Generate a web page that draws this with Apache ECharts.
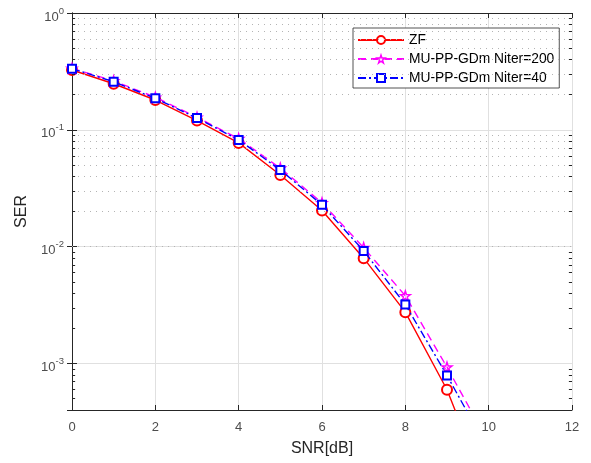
<!DOCTYPE html>
<html><head><meta charset="utf-8">
<script src="https://cdn.jsdelivr.net/npm/echarts@6/dist/echarts.min.js"></script>
<style>html,body{margin:0;padding:0;background:#fff}#c{width:591px;height:463px}</style>
</head><body><div id="c"></div>
<script>
const snr = [0,1,2,3,4,5,6,7,8,9,10];
const serZF = [0.325,0.248,0.180,0.120,0.0773,0.0411,0.0204,0.00797,0.00275,0.000596,0.000075];
const serGD200 = [0.336,0.262,0.190,0.128,0.084,0.047,0.0237,0.0098,0.0038,0.00093,0.00021];
const serGD40 = [0.334,0.258,0.186,0.126,0.082,0.0454,0.0228,0.0092,0.0032,0.00079,0.00018];
const seriesNames = ['ZF','MU-PP-GDm Niter=200','MU-PP-GDm Niter=40'];
const xTicks = [0,2,4,6,8,10,12];
const minorGrid = [5e-4,6e-4,7e-4,8e-4,9e-4,2e-3,3e-3,4e-3,5e-3,6e-3,7e-3,8e-3,9e-3,
  2e-2,3e-2,4e-2,5e-2,6e-2,7e-2,8e-2,9e-2,0.2,0.3,0.4,0.5,0.6,0.7,0.8,0.9];

const FONT = 'Liberation Sans';
const X_MIN = xTicks[0], X_MAX = xTicks[xTicks.length-1];
const TICK_W = 0.075;
const star = 'path://M100 0 L122.45 69.1 L195.1 69.1 L136.3 111.8 L158.8 180.9 L100 138.2 L41.2 180.9 L63.7 111.8 L4.9 69.1 L77.55 69.1 Z';
const pair = arr => snr.map((x,i)=>[x,arr[i]]);

const chart = echarts.init(document.getElementById('c'), null, {renderer:'canvas'});
const yLabel = v => {
  const e = Math.log10(v);
  if (Math.abs(e - Math.round(e)) > 1e-6) return '';
  return '{b|10}{s|' + Math.round(e) + '}';
};
const minorTicks = [];
minorGrid.forEach(v => {
  minorTicks.push([{coord:[X_MIN, v]}, {coord:[X_MIN + TICK_W, v]}]);
  minorTicks.push([{coord:[X_MAX - TICK_W, v]}, {coord:[X_MAX, v]}]);
});
const hollow = c => ({color:'rgba(255,255,255,0)', borderColor:c, borderWidth:1.4});

chart.setOption({
  animation:false,
  backgroundColor:'#fff',
  grid:{left:72, top:13, right:19, bottom:53, containLabel:false},
  legend:{
    orient:'vertical', left:353, top:28, itemWidth:46, itemHeight:10, itemGap:5,
    backgroundColor:'#fff', borderColor:'#262626', borderWidth:0.8, borderRadius:0,
    padding:[5,5,3,4],
    textStyle:{fontFamily:FONT, fontSize:13.8, color:'#000'},
    data:[
      {name:seriesNames[0]},
      {name:seriesNames[1], itemStyle:hollow('#ff00ff')},
      {name:seriesNames[2]}
    ]
  },
  xAxis:[{
    type:'value', min:X_MIN, max:X_MAX, interval:2, position:'bottom',
    name:'SNR[dB]', nameLocation:'middle', nameGap:31,
    nameTextStyle:{fontFamily:FONT, fontSize:16, color:'#262626'},
    axisLine:{show:true, lineStyle:{color:'#262626', width:1}},
    axisTick:{show:true, inside:true, length:5, lineStyle:{color:'#262626'}},
    axisLabel:{fontFamily:FONT, fontSize:13, color:'#4d4d4d', margin:11},
    splitLine:{show:true, lineStyle:{color:'#e0e0e0', width:1}}
  },{
    type:'value', min:X_MIN, max:X_MAX, interval:2, position:'top',
    axisLine:{show:true, onZero:false, lineStyle:{color:'#262626', width:1}},
    axisTick:{show:true, inside:true, length:5, lineStyle:{color:'#262626'}},
    axisLabel:{show:false}, splitLine:{show:false}
  }],
  yAxis:[{
    type:'log', min:4e-4, max:1, logBase:10, position:'left',
    name:'SER', nameLocation:'middle', nameGap:42, nameRotate:90,
    nameTextStyle:{fontFamily:FONT, fontSize:16, color:'#262626'},
    axisLine:{show:true, lineStyle:{color:'#262626', width:1}},
    axisTick:{show:true, inside:true, length:5, lineStyle:{color:'#262626'}},
    axisLabel:{formatter:yLabel, margin:8, showMinLabel:false,
      rich:{b:{fontFamily:FONT, fontSize:13, color:'#4d4d4d', padding:[8,0,0,0]},
            s:{fontFamily:FONT, fontSize:9.5, color:'#4d4d4d', padding:[0,0,4,0]}}},
    splitLine:{show:true, showMinLine:false, lineStyle:{color:'#e0e0e0', width:1}}
  },{
    type:'log', min:4e-4, max:1, logBase:10, position:'right',
    axisLine:{show:true, lineStyle:{color:'#262626', width:1}},
    axisTick:{show:true, inside:true, length:5, lineStyle:{color:'#262626'}},
    axisLabel:{show:false}, splitLine:{show:false}
  }],
  series:[
    {
      name:'grid-minor', type:'line', data:[], silent:true,
      markLine:{silent:true, symbol:'none', label:{show:false}, animation:false,
        lineStyle:{color:'#b4b4b4', type:[1,5], width:1},
        data: minorGrid.map(v=>({yAxis:v}))}
    },
    {
      name:'tick-minor', type:'line', data:[], silent:true,
      markLine:{silent:true, symbol:'none', label:{show:false}, animation:false,
        lineStyle:{color:'#262626', type:'solid', width:1},
        data: minorTicks}
    },
    {
      name:seriesNames[0], type:'line', data:pair(serZF), clip:true,
      symbol:'emptyCircle', symbolSize:10,
      lineStyle:{color:'#ff0000', width:1.4, type:'solid'},
      itemStyle:{color:'#ff0000', borderColor:'#ff0000', borderWidth:1.4},
      z:3
    },
    {
      name:seriesNames[1], type:'line', data:pair(serGD200), clip:true,
      symbol:star, symbolSize:10,
      lineStyle:{color:'#ff00ff', width:1.4, type:[8,5]},
      itemStyle:hollow('#ff00ff'),
      z:4
    },
    {
      name:seriesNames[2], type:'line', data:pair(serGD40), clip:true,
      symbol:'emptyRect', symbolSize:8,
      lineStyle:{color:'#0000ff', width:1.4, type:[8,3,2,3]},
      itemStyle:{color:'#0000ff', borderColor:'#0000ff', borderWidth:1.4},
      z:5
    }
  ]
});
</script></body></html>
